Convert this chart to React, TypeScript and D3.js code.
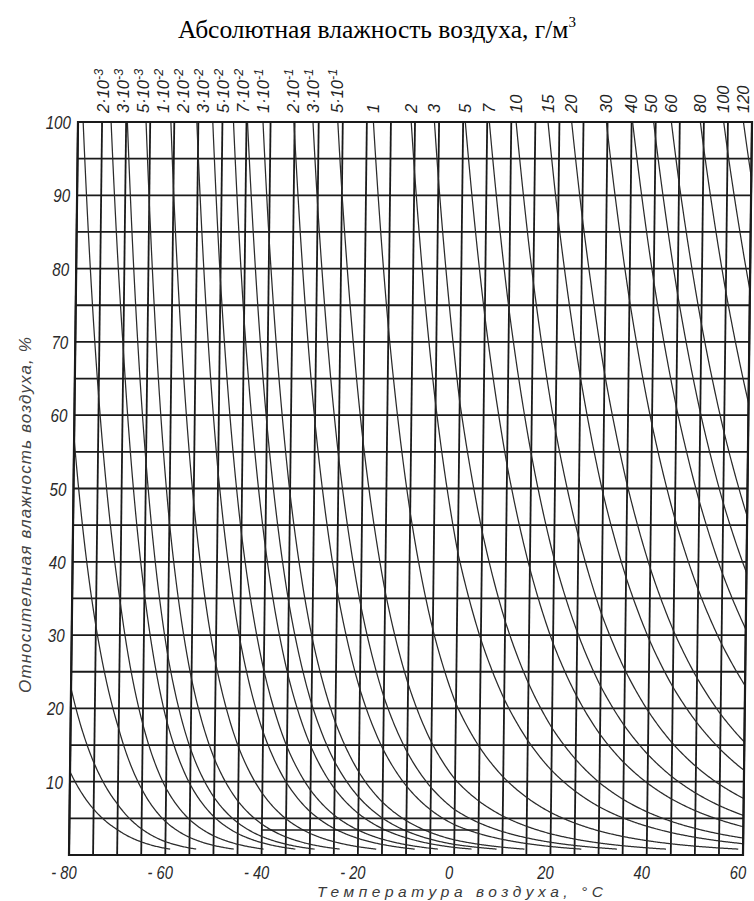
import React from "react";
import * as d3 from "d3";

// Saturated absolute humidity of air (g/m³) by temperature (°C); over ice below 0 °C.
const SAT_TEMPS = [
  -80, -75, -70, -65, -60, -55, -50, -45, -40, -35, -30, -25, -20, -15, -10, -5,
  0, 5, 10, 15, 20, 25, 30, 35, 40, 45, 50, 55, 60,
];
const SAT_DENSITY = [
  8.8e-4, 1.6e-3, 2.9e-3, 5.6e-3, 1.1e-2, 2.08e-2, 3.83e-2, 6.84e-2, 0.119, 0.203,
  0.339, 0.553, 0.884, 1.39, 2.14, 3.25, 4.85, 6.8, 9.4, 12.8, 17.3, 23.0, 30.4,
  39.6, 51.1, 65.4, 82.8, 104.1, 129.8,
];

// Isolines of constant absolute humidity, g/m³
const UNLABELED_CURVES = [1e-4, 2e-4, 5e-4, 1e-3];
const LABELED_CURVES = [
  2e-3, 3e-3, 5e-3, 1e-2, 2e-2, 3e-2, 5e-2, 7e-2, 1e-1, 2e-1, 3e-1, 5e-1, 1, 2, 3,
  5, 7, 10, 15, 20, 30, 40, 50, 60, 80, 100, 120,
];

// Annotated reading example: horizontal line at constant relative humidity
const EXAMPLE_TEMPS = [-40, 5];
const EXAMPLE_RH = 3.4;

const TEMP_TICKS = [-80, -60, -40, -20, 0, 20, 40, 60];
const TEMP_TICK_LABELS = ["- 80", "- 60", "- 40", "- 20", "0", "20", "40", "60"];
const RH_TICKS = [10, 20, 30, 40, 50, 60, 70, 80, 90, 100];
const RH_TICK_LABELS = ["10", "20", "30", "40", "50", "60", "70", "80", "90", "100"];

const TITLE = "Абсолютная влажность воздуха, г/м";
const X_TITLE = "Температура воздуха, °С";
const Y_TITLE = "Относительная влажность воздуха, %";

const W = 754;
const H = 901;
const LEFT = 69;
const RIGHT = 743;
const TOP = 122;
const BOTTOM = 855;
const SHEAR = 9 / 733; // drafting sheet lean: top edge sits further right

const x = d3.scaleLinear().domain([-80, 60]).range([LEFT, RIGHT]);
const y = d3.scaleLinear().domain([0, 100]).range([BOTTOM, TOP]);
const lean = (py: number) => SHEAR * (BOTTOM - py);

const logSat = d3.scaleLinear().domain(SAT_TEMPS).range(SAT_DENSITY.map(Math.log));
const satTemp = d3.scaleLinear().domain(SAT_DENSITY.map(Math.log)).range(SAT_TEMPS);
const relHum = (a: number, t: number) => (100 * a) / Math.exp(logSat(t));

const SAMPLE_T = d3.range(-80, 60.0001, 0.2);

function curvePoints(a: number): [number, number][] {
  const pts = SAMPLE_T.map((t) => [t, relHum(a, t)] as [number, number]).filter(
    (p) => p[1] >= 0.8
  );
  const first = pts.findIndex((p) => p[1] <= 100);
  return pts.slice(Math.max(0, first - 1));
}

const line = d3
  .line<[number, number]>()
  .x((d) => x(d[0]))
  .y((d) => y(d[1]))
  .curve(d3.curveMonotoneX);

function labelParts(v: number): { base: string; exp?: string } {
  if (v >= 1) return { base: String(v) };
  const e = Math.floor(Math.log10(v) + 1e-9);
  const m = Math.round(v / Math.pow(10, e));
  return { base: `${m}·10`, exp: `-${-e}` };
}

// Curve labels sit above the point where each isoline meets 100 %;
// crowded ones are nudged left so they keep a minimum spacing.
const LABEL_GAP = 20;
const labelX: number[] = (() => {
  const xs = LABELED_CURVES.map((a) => x(satTemp(Math.log(a))));
  for (let i = xs.length - 2; i >= 0; i--) {
    xs[i] = Math.min(xs[i], xs[i + 1] - LABEL_GAP);
  }
  return xs;
})();

const DRAFT_FONT = "'Liberation Sans', Arial, sans-serif";
const INK = "#1a1a1a";

export default function App() {
  const gridT = d3.range(-80, 61, 5);
  const gridRH = d3.range(0, 101, 5);
  const shear = `matrix(1,0,${-SHEAR},1,${SHEAR * BOTTOM},0)`;
  const labelBase = 113;

  return (
    <svg
      width={W}
      height={H}
      viewBox={`0 0 ${W} ${H}`}
      style={{ position: "absolute", left: 0, top: 0, display: "block", background: "#fff" }}
    >
      <defs>
        <clipPath id="plot-clip">
          <rect x={LEFT} y={TOP} width={RIGHT - LEFT} height={BOTTOM - TOP} />
        </clipPath>
      </defs>

      <text
        x={377}
        y={38}
        textAnchor="middle"
        fontFamily="'Liberation Serif', 'Times New Roman', serif"
        fontSize={25.5}
        fill="#000"
      >
        {TITLE}
        <tspan dy={-11} fontSize={15}>3</tspan>
      </text>

      <g transform={shear}>
        {gridRH.map((v) => (
          <line key={`h${v}`} x1={LEFT} x2={RIGHT} y1={y(v)} y2={y(v)} stroke={INK} strokeWidth={1.8} />
        ))}
        {gridT.map((v) => (
          <line key={`v${v}`} x1={x(v)} x2={x(v)} y1={TOP} y2={BOTTOM} stroke={INK} strokeWidth={1.8} />
        ))}
        <g clipPath="url(#plot-clip)" fill="none" stroke="#2b2b2b" strokeWidth={1.25}>
          {[...UNLABELED_CURVES, ...LABELED_CURVES].map((a) => (
            <path key={`c${a}`} d={line(curvePoints(a)) ?? ""} />
          ))}
        </g>
        <line
          x1={x(EXAMPLE_TEMPS[0])}
          x2={x(EXAMPLE_TEMPS[1])}
          y1={y(EXAMPLE_RH)}
          y2={y(EXAMPLE_RH)}
          stroke={INK}
          strokeWidth={1.5}
        />
        <rect
          x={LEFT}
          y={TOP}
          width={RIGHT - LEFT}
          height={BOTTOM - TOP}
          fill="none"
          stroke={INK}
          strokeWidth={2.2}
        />
      </g>

      {/* isoline labels along the top edge */}
      <g fontFamily={DRAFT_FONT} fontStyle="italic" fill="#222">
        {LABELED_CURVES.map((a, i) => {
          const p = labelParts(a);
          const cx = labelX[i] + lean(labelBase);
          return (
            <text key={`l${a}`} transform={`translate(${cx + 5.5},${labelBase}) rotate(-90)`} fontSize={16.5}>
              {p.base}
              {p.exp && (
                <tspan dy={-6} fontSize={12.5}>
                  {p.exp}
                </tspan>
              )}
            </text>
          );
        })}
      </g>

      {/* relative humidity ticks */}
      <g fontFamily={DRAFT_FONT} fontStyle="italic" fill="#2a2a2a" fontSize={19}>
        {RH_TICKS.map((v, i) => (
          <text
            key={`ry${v}`}
            transform={`translate(${LEFT + lean(y(v)) - 7},${y(v) + 7}) scale(0.8,1)`}
            textAnchor="end"
          >
            {RH_TICK_LABELS[i]}
          </text>
        ))}
      </g>

      {/* temperature ticks */}
      <g fontFamily={DRAFT_FONT} fontStyle="italic" fill="#2a2a2a" fontSize={18}>
        {TEMP_TICKS.map((v, i) => (
          <text key={`tx${v}`} transform={`translate(${x(v) - 5},879) scale(0.82,1)`} textAnchor="middle">
            {TEMP_TICK_LABELS[i]}
          </text>
        ))}
      </g>

      <text
        x={460}
        y={897}
        textAnchor="middle"
        fontFamily={DRAFT_FONT}
        fontStyle="italic"
        fontSize={15.5}
        fill="#3a3a3a"
        textLength={286}
        lengthAdjust="spacing"
      >
        {X_TITLE}
      </text>

      <text
        transform="translate(31,515) rotate(-90)"
        textAnchor="middle"
        fontFamily={DRAFT_FONT}
        fontStyle="italic"
        fontSize={17}
        fill="#444"
        textLength={356}
        lengthAdjust="spacing"
      >
        {Y_TITLE}
      </text>
    </svg>
  );
}
